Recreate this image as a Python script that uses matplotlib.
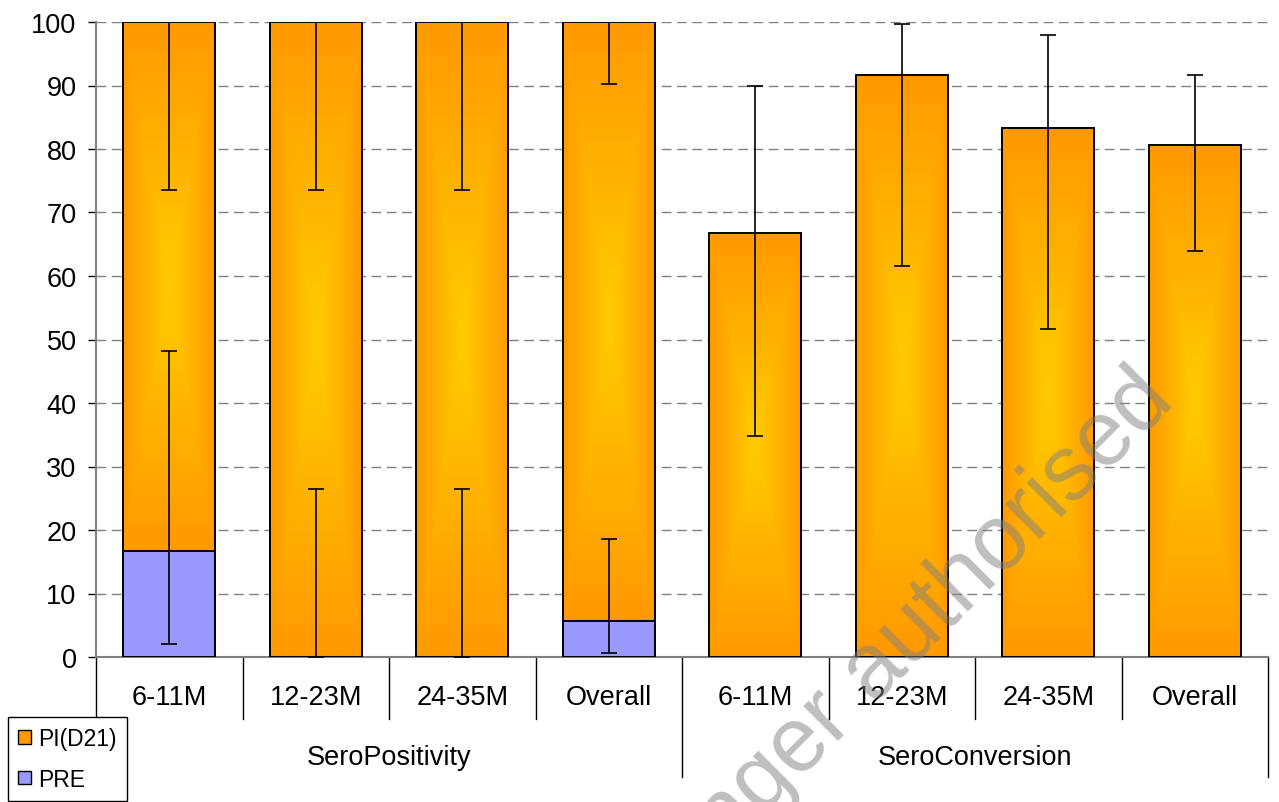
#!/usr/bin/env python3
"""Sero-positivity and sero-conversion bars with gradient fill"""
import numpy as np
import matplotlib
matplotlib.use('Agg')
import matplotlib.pyplot as plt
from matplotlib.patches import Patch
from matplotlib.colors import to_rgb
import matplotlib.transforms as mtransforms

plt.rcParams['font.family'] = ['Liberation Sans', 'DejaVu Sans']

# data
categories = ['6-11M', '12-23M', '24-35M', 'Overall',
              '6-11M', '12-23M', '24-35M', 'Overall']
groups = ['SeroPositivity', 'SeroConversion']
pi_d21 = [100, 100, 100, 100, 66.7, 91.7, 83.3, 80.6]
pi_low = [73.5, 73.5, 73.5, 90.3, 34.8, 61.5, 51.6, 64.0]
pi_high = [100, 100, 100, 100, 90.0, 99.7, 97.9, 91.7]
pre = [16.7, 0, 0, 5.6]
pre_low = [2.1, 0, 0, 0.7]
pre_high = [48.2, 26.5, 26.5, 18.6]

ORANGE = '#FF9900'
YELLOW = '#FFCC00'
LAVENDER = '#9999FF'
bar_w = 0.63


def gradient_img(n=200):
    u = np.linspace(-1, 1, n)
    uu, vv = np.meshgrid(u, u)
    d = np.maximum(np.abs(uu), np.abs(vv))
    c0 = np.array(to_rgb(YELLOW))
    c1 = np.array(to_rgb(ORANGE))
    return c0 * (1 - d[..., None]) + c1 * d[..., None]


fig = plt.figure(figsize=(12.79, 8.03), dpi=100)
ax = fig.add_axes([96 / 1279, 1 - 658 / 803, 1172 / 1279, 635 / 803])

x = np.arange(len(categories))
bottoms = pre + [0] * 4
img = gradient_img()

for xi, top, bot in zip(x, pi_d21, bottoms):
    ax.imshow(img, extent=(xi - bar_w / 2, xi + bar_w / 2, bot, top),
              aspect='auto', zorder=2, interpolation='bilinear')
    ax.bar(xi, top - bot, bottom=bot, width=bar_w, facecolor='none',
           edgecolor='black', linewidth=1.4, zorder=3)

ax.bar(x[:4], pre, width=bar_w, color=LAVENDER, edgecolor='black',
       linewidth=1.4, zorder=3)

# error bars
pi_arr = np.array(pi_d21)
ax.errorbar(x, pi_arr, yerr=[pi_arr - np.array(pi_low), np.array(pi_high) - pi_arr],
            fmt='none', ecolor='black', elinewidth=1.2, capsize=6, capthick=1.2, zorder=4)
pre_arr = np.array(pre)
ax.errorbar(x[:4], pre_arr, yerr=[pre_arr - np.array(pre_low), np.array(pre_high) - pre_arr],
            fmt='none', ecolor='black', elinewidth=1.2, capsize=6, capthick=1.2, zorder=4)

ax.set_xlim(-0.5, 7.5)
ax.set_ylim(0, 100)
ax.set_yticks(range(0, 101, 10))
ax.yaxis.grid(True, color='#808080', linestyle=(0, (7, 4)), linewidth=1.0)
ax.set_axisbelow(True)
ax.set_xticks([])
ax.tick_params(axis='y', direction='out', length=6, width=1, color='black',
               labelsize=19.5, pad=8)
for s in ['top', 'right']:
    ax.spines[s].set_visible(False)
ax.spines['left'].set_color('#808080')
ax.spines['left'].set_linewidth(1.5)
ax.spines['bottom'].set_color('#808080')
ax.spines['bottom'].set_linewidth(1.5)

# two-level category axis
trans = mtransforms.blended_transform_factory(ax.transData, ax.transAxes)
short_y = -62 / 635
long_y = -120 / 635
for b in np.arange(-0.5, 8.0, 1.0):
    yend = long_y if b in (-0.5, 3.5, 7.5) else short_y
    ax.plot([b, b], [0, yend], color='black', linewidth=1, transform=trans,
            clip_on=False, zorder=1)
for xi, lab in zip(x, categories):
    ax.text(xi, -40 / 635, lab, transform=trans, ha='center', va='center',
            fontsize=19.5)
for gi, g in enumerate(groups):
    ax.text(gi * 4 + 1.5, -100 / 635, g, transform=trans, ha='center',
            va='center', fontsize=19.5)

handles = [Patch(facecolor=ORANGE, edgecolor='black', linewidth=1),
           Patch(facecolor=LAVENDER, edgecolor='black', linewidth=1)]
leg = fig.legend(handles, ['PI(D21)', 'PRE'], loc='lower left',
                 bbox_to_anchor=(8 / 1279, 1 / 803), fontsize=16.5,
                 fancybox=False, framealpha=1, edgecolor='black',
                 handlelength=0.55, handleheight=0.55, handletextpad=0.3,
                 borderpad=0.45, labelspacing=0.75, borderaxespad=0)
leg.get_frame().set_linewidth(1)

# watermark
fig.text(864 / 1279, 1 - 681 / 803, 'no longer authorised', rotation=45,
         rotation_mode='anchor', ha='center', va='center', fontsize=66,
         color='#808080', alpha=0.5, zorder=10)

fig.savefig('out.png', dpi=100)
